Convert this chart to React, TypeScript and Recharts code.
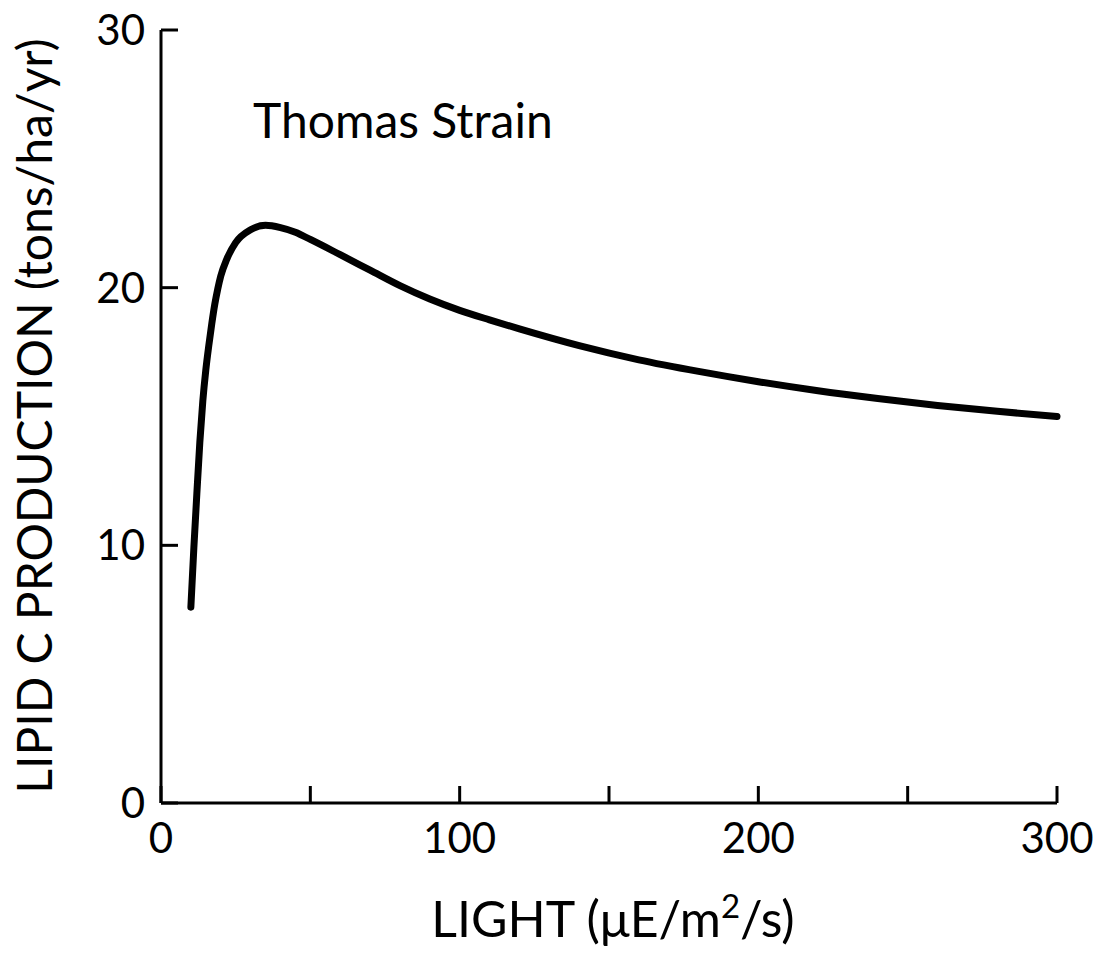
import React from 'react';
import { LineChart, Line, XAxis, YAxis } from 'recharts';

const lightValues = [10, 11, 12, 13, 14, 15, 16, 17, 18, 19, 20, 22, 25, 30, 35, 40, 45, 50, 60, 70, 80, 90, 100, 110, 120, 140, 160, 180, 200, 220, 240, 260, 280, 300];
const lipidValues = [7.6, 9.9, 12.0, 14.0, 15.6, 16.8, 17.75, 18.6, 19.35, 19.95, 20.45, 21.1, 21.75, 22.25, 22.42, 22.33, 22.15, 21.87, 21.28, 20.68, 20.08, 19.56, 19.12, 18.75, 18.4, 17.75, 17.2, 16.75, 16.35, 16.0, 15.7, 15.43, 15.2, 15.0];

const xTicks = [0, 50, 100, 150, 200, 250, 300];
const xTickLabels = ['0', '', '100', '', '200', '', '300'];
const yTicks = [0, 10, 20, 30];

const data = lightValues.map((light, i) => ({ light, lipid: lipidValues[i] }));

const FONT = 'Lato, "Open Sans", sans-serif';

const App: React.FC = () => {
  return (
    // cancel the body margin so the svg covers the whole page
    <div style={{ width: 1109, height: 957, margin: -8 }}>
      <LineChart
        width={1109}
        height={957}
        data={data}
        margin={{ top: 30, right: 52, bottom: 54, left: 61 }}
      >
        <XAxis
          dataKey="light"
          type="number"
          domain={[0, 300]}
          ticks={xTicks}
          tickFormatter={(v: number) => xTickLabels[xTicks.indexOf(v)] ?? ''}
          height={100}
          axisLine={{ stroke: '#000', strokeWidth: 3 }}
          tickLine={{ stroke: '#000', strokeWidth: 3 }}
          tickSize={-17}
          tickMargin={37}
          tick={{ fill: '#000', fontSize: 42, fontFamily: FONT }}
        />
        <YAxis
          type="number"
          domain={[0, 30]}
          ticks={yTicks}
          width={100}
          axisLine={{ stroke: '#000', strokeWidth: 3 }}
          tickLine={{ stroke: '#000', strokeWidth: 3 }}
          tickSize={-17}
          tickMargin={33}
          tick={{ fill: '#000', fontSize: 42, fontFamily: FONT }}
        />
        <Line
          dataKey="lipid"
          type="monotone"
          stroke="#000"
          strokeWidth={7}
          strokeLinecap="round"
          dot={false}
          isAnimationActive={false}
        />
        <text x={253} y={138} fontSize={48} fontFamily={FONT} fill="#000">
          Thomas Strain
        </text>
        <text
          x={52}
          y={416}
          transform="rotate(-90 52 416)"
          textAnchor="middle"
          fontSize={48}
          fontFamily={FONT}
          fill="#000"
        >
          LIPID C PRODUCTION (tons/ha/yr)
        </text>
        <text x={613} y={937} textAnchor="middle" fontSize={50} fontFamily={FONT} fill="#000">
          LIGHT (μE/m
          <tspan dy={-19} fontSize={33}>2</tspan>
          <tspan dy={19}>/s)</tspan>
        </text>
      </LineChart>
    </div>
  );
};

export default App;
